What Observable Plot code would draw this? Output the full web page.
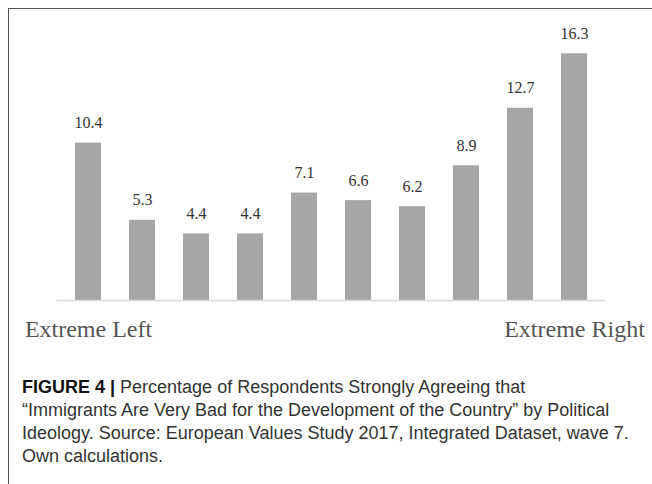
<!DOCTYPE html>
<html>
<head>
<meta charset="utf-8">
<script src="https://cdn.jsdelivr.net/npm/d3@7"></script>
<script src="https://cdn.jsdelivr.net/npm/@observablehq/plot@0.6"></script>
<style>
  html, body { margin: 0; padding: 0; background: #fff; }
  body { width: 652px; height: 484px; position: relative; overflow: hidden; }
  #chart { position: absolute; left: 0; top: 0; }
  #frame { position: absolute; left: 8px; top: 8px; width: 700px; height: 600px;
           border-top: 1.5px solid #555; border-left: 1.5px solid #555; pointer-events: none; }
  #caption { position: absolute; left: 22px; top: 376px; font-family: "Liberation Sans", Arial, sans-serif;
             font-size: 18px; line-height: 23px; color: #333; white-space: nowrap; }
  #caption b { color: #111; }
</style>
</head>
<body>
<div id="chart"></div>
<div id="frame"></div>
<div id="caption">
<b>FIGURE 4 |</b> Percentage of Respondents Strongly Agreeing that<br>
“Immigrants Are Very Bad for the Development of the Country” by Political<br>
Ideology. Source: European Values Study 2017, Integrated Dataset, wave 7.<br>
Own calculations.
</div>
<script>
const categories = ["1", "2", "3", "4", "5", "6", "7", "8", "9", "10"];
const values = [10.4, 5.3, 4.4, 4.4, 7.1, 6.6, 6.2, 8.9, 12.7, 16.3];
const tickLabels = ["Extreme Left", "", "", "", "", "", "", "", "", "Extreme Right"];

const data = categories.map((c, i) => ({cat: c, value: values[i], label: tickLabels[i]}));

const chart = Plot.plot({
  width: 652,
  height: 350,
  marginLeft: 56.5,
  marginRight: 46.5,
  marginTop: 53.3,
  marginBottom: 50,
  style: {background: "transparent", color: "#555", fontFamily: "Liberation Serif, Times New Roman, serif"},
  x: {domain: categories, paddingInner: 0.52, paddingOuter: 0.26, axis: null},
  y: {domain: [0, 16.3], axis: null},
  marks: [
    Plot.barY(data, {x: "cat", y: "value", fill: "#a6a6a6"}),
    Plot.ruleY([0], {stroke: "#d9d9d9", strokeWidth: 1.5}),
    Plot.text(data, {x: "cat", y: "value", text: d => d.value.toFixed(1), lineAnchor: "bottom", dy: -15,
      fontSize: 16, fill: "#333"}),
    Plot.axisX({tickSize: 0, tickPadding: 19, fontSize: 24, fill: "#555", label: null,
      tickFormat: c => tickLabels[categories.indexOf(c)]})
  ]
});
document.getElementById("chart").appendChild(chart);
</script>
</body>
</html>
